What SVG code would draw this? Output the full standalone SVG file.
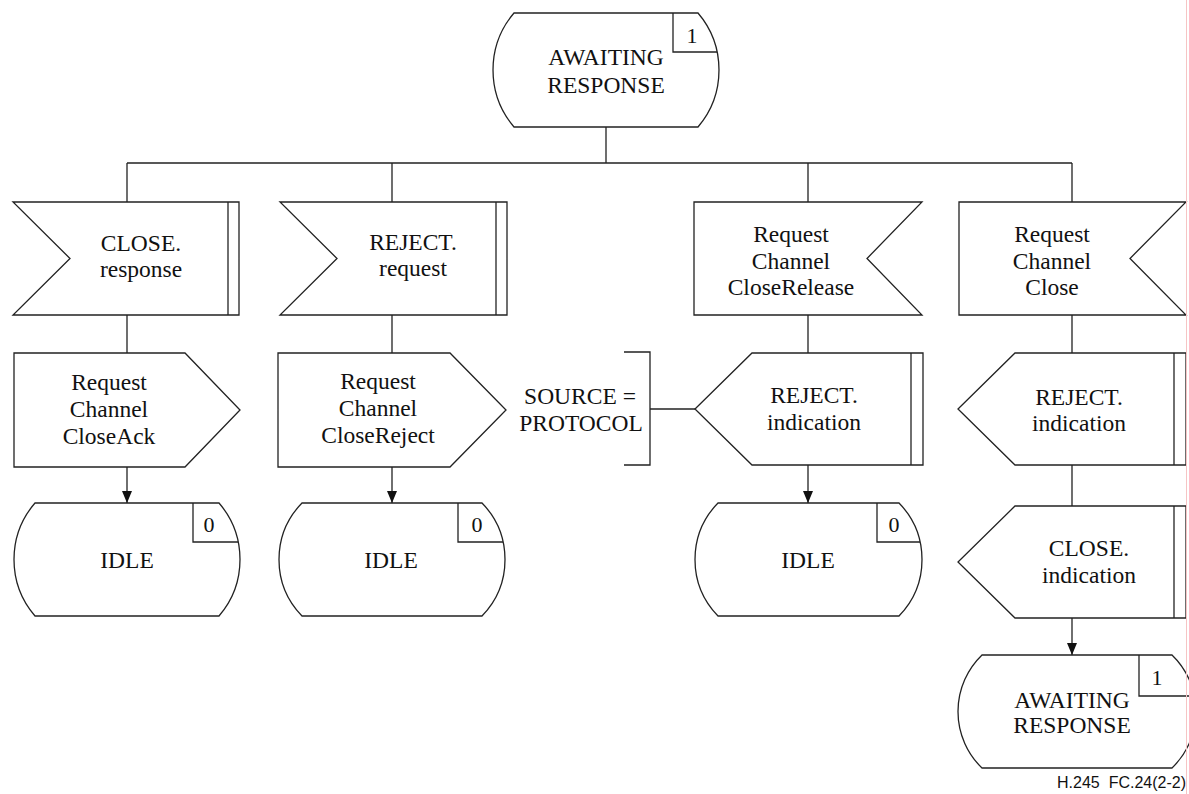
<svg xmlns="http://www.w3.org/2000/svg" width="1189" height="794" viewBox="0 0 1189 794">
<style>
.s{fill:#fff;stroke:#222;stroke-width:1.3;stroke-linejoin:miter}
.l{fill:none;stroke:#222;stroke-width:1.3}
text{font-family:"Liberation Serif","Times New Roman",serif;font-size:23.5px;fill:#111;text-anchor:middle}
.n{font-size:22px}
.f{font-family:"Liberation Sans",Arial,sans-serif;font-size:16px;text-anchor:end}
</style>
<defs>
<marker id="ah" viewBox="0 0 12 10" refX="12" refY="5" markerWidth="12" markerHeight="10" markerUnits="userSpaceOnUse" orient="auto">
<path d="M0,0 L12,5 L0,10 Z" fill="#111"/>
</marker>
</defs>
<rect width="1189" height="794" fill="#fff"/>
<g id="connectors">
<path class="l" d="M606,127 V163 M127,163 H1072"/>
<path class="l" d="M127,163 V202 M127,315 V353"/>
<path class="l" d="M392,163 V202 M392,315 V353"/>
<path class="l" d="M808,163 V202 M808,315 V353"/>
<path class="l" d="M1072,163 V202 M1072,315 V353 M1072,465 V506"/>
<line class="l" x1="127" y1="467" x2="127" y2="503" marker-end="url(#ah)"/>
<line class="l" x1="392" y1="467" x2="392" y2="503" marker-end="url(#ah)"/>
<line class="l" x1="808" y1="465" x2="808" y2="503" marker-end="url(#ah)"/>
<line class="l" x1="1072" y1="618" x2="1072" y2="655" marker-end="url(#ah)"/>
<path class="l" d="M650,409 H695"/>
</g>
<g id="state_top">
<path class="s" d="M514,13 H698 A87.9,87.9 0 0 1 698,127 H514 A87.9,87.9 0 0 1 514,13 Z"/>
<path class="l" d="M673,13 V52 H717"/>
<text class="n" x="692" y="43">1</text>
<text x="606" y="65">AWAITING</text>
<text x="606" y="93">RESPONSE</text>
</g>
<g id="in_close_response">
<path class="s" d="M13,202 H239 V315 H13 L70,258.5 Z"/>
<path class="l" d="M228,202 V315"/>
<text x="141" y="251">CLOSE.</text>
<text x="141" y="277">response</text>
</g>
<g id="in_reject_request">
<path class="s" d="M280,202 H507 V315 H280 L337,258.5 Z"/>
<path class="l" d="M496,202 V315"/>
<text x="413" y="250">REJECT.</text>
<text x="413" y="276">request</text>
</g>
<g id="in_closerelease">
<path class="s" d="M694,202 H922 L867,258.5 L922,315 H694 Z"/>
<text x="791" y="242">Request</text>
<text x="791" y="269">Channel</text>
<text x="791" y="295">CloseRelease</text>
</g>
<g id="in_close">
<path class="s" d="M959,202 H1186 L1130,258.5 L1186,315 H959 Z"/>
<text x="1052" y="242">Request</text>
<text x="1052" y="269">Channel</text>
<text x="1052" y="295">Close</text>
</g>
<g id="out_closeack">
<path class="s" d="M14,353 H185 L240,410 L185,467 H14 Z"/>
<text x="109" y="390">Request</text>
<text x="109" y="417">Channel</text>
<text x="109" y="444">CloseAck</text>
</g>
<g id="out_closereject">
<path class="s" d="M278,353 H450 L506,410 L450,467 H278 Z"/>
<text x="378" y="389">Request</text>
<text x="378" y="416">Channel</text>
<text x="378" y="443">CloseReject</text>
</g>
<g id="comment_source">
<path class="l" d="M624,352 H650 V465 H624"/>
<text x="580" y="404">SOURCE =</text>
<text x="581" y="431">PROTOCOL</text>
</g>
<g id="out_reject_ind_3">
<path class="s" d="M752,353 H923 V465 H752 L695,409 Z"/>
<path class="l" d="M911,353 V465"/>
<text x="814" y="403">REJECT.</text>
<text x="814" y="430">indication</text>
</g>
<g id="out_reject_ind_4">
<path class="s" d="M1015,353 H1186 V465 H1015 L958,409 Z"/>
<path class="l" d="M1174,353 V465"/>
<text x="1079" y="405">REJECT.</text>
<text x="1079" y="431">indication</text>
</g>
<g id="out_close_ind">
<path class="s" d="M1015,506 H1186 V618 H1015 L958,562 Z"/>
<path class="l" d="M1174,506 V618"/>
<text x="1089" y="556">CLOSE.</text>
<text x="1089" y="583">indication</text>
</g>
<g id="idle_1">
<path class="s" d="M35,503 H219 A86.5,86.5 0 0 1 219,616 H35 A86.5,86.5 0 0 1 35,503 Z"/>
<path class="l" d="M193,503 V542 H238"/>
<text class="n" x="209" y="532">0</text>
<text x="127" y="568">IDLE</text>
</g>
<g id="idle_2">
<path class="s" d="M302,503 H482 A80.9,80.9 0 0 1 482,616 H302 A80.9,80.9 0 0 1 302,503 Z"/>
<path class="l" d="M458,503 V542 H503"/>
<text class="n" x="477" y="532">0</text>
<text x="391" y="568">IDLE</text>
</g>
<g id="idle_3">
<path class="s" d="M718,503 H899 A80.9,80.9 0 0 1 899,616 H718 A80.9,80.9 0 0 1 718,503 Z"/>
<path class="l" d="M877,503 V542 H920"/>
<text class="n" x="894" y="532">0</text>
<text x="808" y="568">IDLE</text>
</g>
<g id="state_final">
<path class="s" d="M982,655 H1172 A78.5,78.5 0 0 1 1172,768 H982 A78.5,78.5 0 0 1 982,655 Z"/>
<path class="l" d="M1139,655 V696 H1195"/>
<text class="n" x="1157" y="685">1</text>
<text x="1072" y="708">AWAITING</text>
<text x="1072" y="733">RESPONSE</text>
</g>
<line x1="1186.5" y1="0" x2="1186.5" y2="794" stroke="#f6c4c4" stroke-width="1"/>
<text class="f" x="1186" y="788" xml:space="preserve">H.245  FC.24(2-2)</text>
</svg>
